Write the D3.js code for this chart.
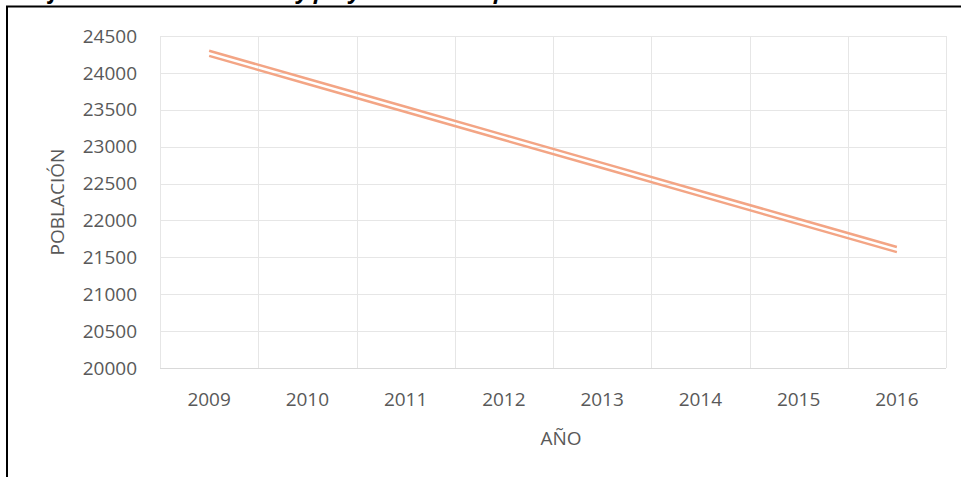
<!DOCTYPE html>
<html>
<head>
<meta charset="utf-8">
<script src="https://cdn.jsdelivr.net/npm/d3@7"></script>
<style>
  body { margin: 0; background: #fff; }
  svg { display: block; font-family: "Open Sans", sans-serif; }
  .tick-label { fill: #595959; font-size: 19px; }
  .axis-label { fill: #595959; font-size: 19px; }
</style>
</head>
<body>
<svg width="961" height="477"></svg>
<script>
const years = ["2009", "2010", "2011", "2012", "2013", "2014", "2015", "2016"];
const upperSeries = [24300, 23920, 23540, 23160, 22780, 22400, 22020, 21640];
const lowerSeries = [24230, 23850, 23470, 23090, 22710, 22330, 21950, 21570];
const yTicks = [20000, 20500, 21000, 21500, 22000, 22500, 23000, 23500, 24000, 24500];

const margin = { top: 36, right: 15, bottom: 109, left: 160 };
const width = 961 - margin.left - margin.right;
const height = 477 - margin.top - margin.bottom;

const root = d3.select("svg");

// caption sits above the frame, mostly cut off by the top edge
root.append("text")
  .attr("x", 12)
  .attr("y", -1)
  .attr("font-size", 22)
  .attr("font-weight", "bold")
  .attr("font-style", "italic")
  .attr("fill", "#000")
  .text("Gráfico 1: Población actual y proyectada de la provincia 2009-2016");

// frame
root.append("path")
  .attr("d", "M7,480 L7,6.5 L961,6.5")
  .attr("fill", "none")
  .attr("stroke", "#000")
  .attr("stroke-width", 2);

const svg = root.append("g")
  .attr("transform", `translate(${margin.left},${margin.top})`);

const x = d3.scaleBand().domain(years).range([0, width]);
const y = d3.scaleLinear().domain([20000, 24500]).range([height, 0]);

// gridlines
svg.selectAll(".hgrid").data(yTicks)
  .join("line")
  .attr("class", "hgrid")
  .attr("x1", 0).attr("x2", width)
  .attr("y1", d => Math.round(y(d)) + 0.5).attr("y2", d => Math.round(y(d)) + 0.5)
  .attr("stroke", d => d === 20000 ? "#d9d9d9" : "#e6e6e6")
  .attr("stroke-width", 1);

svg.selectAll(".vgrid").data(years.concat(["end"]))
  .join("line")
  .attr("class", "vgrid")
  .attr("x1", (d, i) => Math.round(i * x.bandwidth()) + 0.5)
  .attr("x2", (d, i) => Math.round(i * x.bandwidth()) + 0.5)
  .attr("y1", 0).attr("y2", height)
  .attr("stroke", "#e6e6e6")
  .attr("stroke-width", 1);

// tick labels
svg.selectAll(".ylab").data(yTicks)
  .join("text")
  .attr("class", "tick-label")
  .attr("x", -23)
  .attr("y", d => y(d))
  .attr("dy", "0.35em")
  .attr("text-anchor", "end")
  .text(d => d);

svg.selectAll(".xlab").data(years)
  .join("text")
  .attr("class", "tick-label")
  .attr("x", d => x(d) + x.bandwidth() / 2)
  .attr("y", height + 31)
  .attr("dy", "0.35em")
  .attr("text-anchor", "middle")
  .text(d => d);

svg.append("text")
  .attr("class", "axis-label")
  .attr("text-anchor", "middle")
  .attr("x", 561 - margin.left)
  .attr("y", height + 70)
  .attr("dy", "0.35em")
  .text("AÑO");

svg.append("text")
  .attr("class", "axis-label")
  .attr("text-anchor", "middle")
  .attr("transform", "rotate(-90)")
  .attr("x", -(202 - margin.top))
  .attr("y", 57 - margin.left)
  .attr("dy", "0.35em")
  .text("POBLACIÓN");

const line = d3.line()
  .x((d, i) => x(years[i]) + x.bandwidth() / 2)
  .y(d => y(d));

svg.selectAll(".series").data([upperSeries, lowerSeries])
  .join("path")
  .attr("class", "series")
  .attr("fill", "none")
  .attr("stroke", "#f3a585")
  .attr("stroke-width", 2.5)
  .attr("d", d => line(d));
</script>
</body>
</html>
